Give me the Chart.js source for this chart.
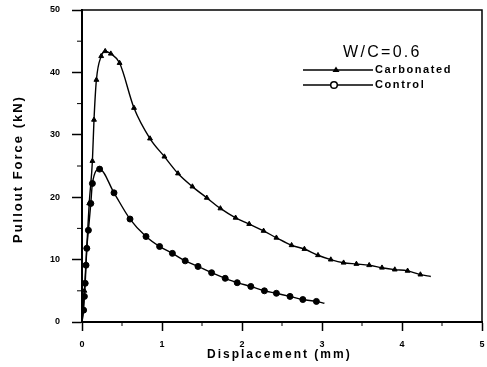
<!DOCTYPE html>
<html>
<head>
<meta charset="utf-8">
<script src="https://cdn.jsdelivr.net/npm/chart.js@4/dist/chart.umd.min.js"></script>
<style>
  body { margin: 0; background: #fff; }
  #wrap { width: 487px; height: 367px; }
</style>
</head>
<body>
<div id="wrap"><canvas id="c"></canvas></div>
<script>
// carbonated specimens (triangles)
const carbX = [0, 0.03, 0.06, 0.09, 0.13, 0.15, 0.18, 0.24, 0.29, 0.36, 0.47, 0.65, 0.85, 1.03, 1.20, 1.38, 1.56, 1.73, 1.92, 2.09, 2.27, 2.43, 2.62, 2.78, 2.95, 3.11, 3.27, 3.43, 3.59, 3.75, 3.91, 4.07, 4.23, 4.36];
const carbY = [0, 5, 12, 19, 25.8, 32.4, 38.8, 42.6, 43.4, 43.0, 41.5, 34.3, 29.4, 26.5, 23.8, 21.7, 19.9, 18.2, 16.7, 15.7, 14.6, 13.5, 12.3, 11.7, 10.7, 10.0, 9.5, 9.3, 9.1, 8.7, 8.4, 8.2, 7.6, 7.3];

// control specimens (circles)
const ctrlX = [0, 0.02, 0.03, 0.04, 0.05, 0.06, 0.08, 0.11, 0.13, 0.22, 0.40, 0.60, 0.80, 0.97, 1.13, 1.29, 1.45, 1.62, 1.79, 1.94, 2.11, 2.28, 2.43, 2.60, 2.76, 2.93, 3.03];
const ctrlY = [0, 1.9, 4.1, 6.2, 9.1, 11.8, 14.7, 19.0, 22.2, 24.5, 20.7, 16.5, 13.7, 12.1, 11.0, 9.8, 8.9, 7.9, 7.0, 6.3, 5.7, 5.0, 4.6, 4.1, 3.6, 3.3, 3.0];

const xTicks = [0, 1, 2, 3, 4, 5];
const yTicks = [0, 10, 20, 30, 40, 50];
const xMinor = [0.5, 1.5, 2.5, 3.5, 4.5];
const yMinor = [5, 15, 25, 35, 45];

const FONT = '"Liberation Sans", Arial, sans-serif';

const toPts = (xs, ys) => xs.map((x, i) => ({ x: x, y: ys[i] }));
// no marker on the first and last point of each curve
const markR = r => ctx => (ctx.dataIndex === 0 || ctx.dataIndex === ctx.dataset.data.length - 1) ? 0 : r;

function spaced(ctx, text, x, y, font, spacing) {
    ctx.font = font;
    ctx.letterSpacing = spacing + 'px';
    ctx.fillText(text, x, y);
    ctx.letterSpacing = '0px';
}

const decor = {
    id: 'decor',
    afterDraw(chart) {
        const { ctx, chartArea: a, scales } = chart;
        ctx.save();
        // frame
        ctx.strokeStyle = '#000';
        ctx.lineWidth = 1.5;
        ctx.beginPath();
        ctx.moveTo(a.left, a.top);
        ctx.lineTo(a.right, a.top);
        ctx.lineTo(a.right, a.bottom);
        ctx.stroke();

        // minor ticks
        ctx.lineWidth = 1;
        xMinor.forEach(v => {
            const px = scales.x.getPixelForValue(v);
            ctx.beginPath(); ctx.moveTo(px, a.bottom); ctx.lineTo(px, a.bottom + 4); ctx.stroke();
        });
        yMinor.forEach(v => {
            const py = scales.y.getPixelForValue(v);
            ctx.beginPath(); ctx.moveTo(a.left, py); ctx.lineTo(a.left - 5, py); ctx.stroke();
        });

        ctx.fillStyle = '#000';
        ctx.textBaseline = 'middle';
        ctx.textAlign = 'left';

        // axis titles
        spaced(ctx, 'Displacement (mm)', 207, 355, 'bold 12px ' + FONT, 2);
        ctx.save();
        ctx.translate(18, 243);
        ctx.rotate(-Math.PI / 2);
        spaced(ctx, 'Pullout Force (kN)', 0, 0, 'bold 13px ' + FONT, 2);
        ctx.restore();

        // legend
        spaced(ctx, 'W/C=0.6', 343, 53, '16px ' + FONT, 2.3);
        spaced(ctx, 'Carbonated', 375, 70, 'bold 11px ' + FONT, 1.6);
        spaced(ctx, 'Control', 375, 85, 'bold 11px ' + FONT, 1.6);

        ctx.lineWidth = 1.3;
        ctx.beginPath(); ctx.moveTo(303, 70); ctx.lineTo(373, 70); ctx.stroke();
        ctx.beginPath(); ctx.moveTo(303, 85); ctx.lineTo(373, 85); ctx.stroke();
        ctx.beginPath();
        ctx.moveTo(336, 66.5); ctx.lineTo(339.5, 72); ctx.lineTo(332.5, 72); ctx.closePath();
        ctx.fill();
        ctx.beginPath(); ctx.arc(334, 85, 3.3, 0, Math.PI * 2);
        ctx.fillStyle = '#fff'; ctx.fill();
        ctx.lineWidth = 1.5; ctx.stroke();
        ctx.restore();
    }
};

new Chart(document.getElementById('c'), {
    type: 'scatter',
    data: {
        datasets: [
            {
                label: 'Carbonated',
                data: toPts(carbX, carbY),
                showLine: true,
                cubicInterpolationMode: 'monotone',
                borderColor: '#000',
                borderWidth: 1.4,
                backgroundColor: '#000',
                pointStyle: 'triangle',
                pointRadius: markR(2.8),
                pointBorderWidth: 1
            },
            {
                label: 'Control',
                data: toPts(ctrlX, ctrlY),
                showLine: true,
                cubicInterpolationMode: 'monotone',
                borderColor: '#000',
                borderWidth: 1.4,
                backgroundColor: '#000',
                pointStyle: 'circle',
                pointRadius: markR(3),
                pointBorderWidth: 1
            }
        ]
    },
    options: {
        responsive: true,
        maintainAspectRatio: false,
        animation: false,
        layout: { autoPadding: false, padding: { top: 10, right: 5, left: 0, bottom: 0 } },
        plugins: {
            legend: { display: false },
            tooltip: { enabled: false }
        },
        scales: {
            x: {
                type: 'linear',
                min: 0,
                max: 5,
                afterBuildTicks: s => { s.ticks = xTicks.map(v => ({ value: v })); },
                afterFit: s => { s.height = 45; s.paddingLeft = 0; s.paddingRight = 0; },
                border: { color: '#000', width: 2 },
                grid: { drawOnChartArea: false, tickLength: 9, tickColor: '#000', tickWidth: 1.5 },
                ticks: { color: '#000', padding: 8, font: { family: FONT, size: 9, weight: 'bold' } }
            },
            y: {
                min: 0,
                max: 50,
                afterBuildTicks: s => { s.ticks = yTicks.map(v => ({ value: v })); },
                afterFit: s => { s.width = 82; s.paddingTop = 0; s.paddingBottom = 0; },
                border: { color: '#000', width: 2 },
                grid: { drawOnChartArea: false, tickLength: 10, tickColor: '#000', tickWidth: 1.5 },
                ticks: { color: '#000', padding: 12, font: { family: FONT, size: 9, weight: 'bold' } }
            }
        }
    },
    plugins: [decor]
});
</script>
</body>
</html>
